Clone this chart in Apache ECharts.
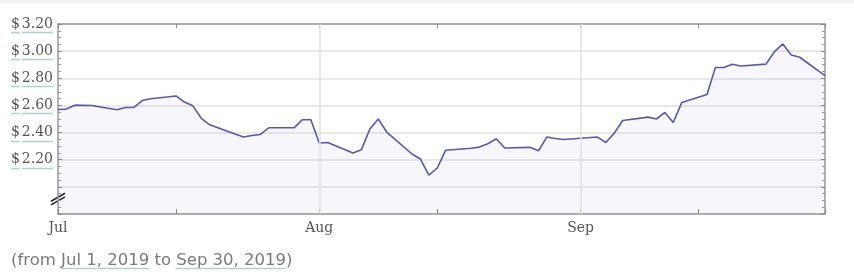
<!DOCTYPE html>
<html><head><meta charset="utf-8">
<script src="https://cdn.jsdelivr.net/npm/echarts@6/dist/echarts.min.js"></script>
<style>html,body{margin:0;padding:0;background:#fff;}#c{width:854px;height:274px;}</style>
</head><body><div id="c"></div>
<script>
const dates = ['2019-07-01','2019-07-02','2019-07-03','2019-07-05','2019-07-08','2019-07-09','2019-07-10','2019-07-11','2019-07-12',
'2019-07-15','2019-07-16','2019-07-17','2019-07-18','2019-07-19','2019-07-22','2019-07-23','2019-07-24','2019-07-25','2019-07-26',
'2019-07-29','2019-07-30','2019-07-31','2019-08-01','2019-08-02','2019-08-05','2019-08-06','2019-08-07','2019-08-08','2019-08-09',
'2019-08-12','2019-08-13','2019-08-14','2019-08-15','2019-08-16','2019-08-19','2019-08-20','2019-08-21','2019-08-22','2019-08-23',
'2019-08-26','2019-08-27','2019-08-28','2019-08-29','2019-08-30','2019-09-03','2019-09-04','2019-09-05','2019-09-06',
'2019-09-09','2019-09-10','2019-09-11','2019-09-12','2019-09-13','2019-09-16','2019-09-17','2019-09-18','2019-09-19','2019-09-20',
'2019-09-23','2019-09-24','2019-09-25','2019-09-26','2019-09-27','2019-09-30'];
const prices = [2.570,2.573,2.602,2.600,2.568,2.585,2.585,2.636,2.649,
2.670,2.625,2.597,2.505,2.457,2.390,2.367,2.378,2.386,2.435,
2.435,2.495,2.495,2.323,2.327,2.249,2.274,2.426,2.500,2.404,
2.242,2.205,2.087,2.139,2.270,2.285,2.293,2.318,2.354,2.286,
2.291,2.266,2.367,2.356,2.349,2.367,2.327,2.396,2.489,
2.514,2.500,2.548,2.474,2.621,2.680,2.879,2.879,2.904,2.891,
2.904,2.996,3.053,2.972,2.955,2.820];
const labeledPrices = [2.2,2.4,2.6,2.8,3.0,3.2];
const monthLabelDates = ['2019-07-01','2019-08-01','2019-09-01'];
const monthNames = ['Jan','Feb','Mar','Apr','May','Jun','Jul','Aug','Sep','Oct','Nov','Dec'];
const tickDates = ['2019-07-01','2019-07-15','2019-08-01','2019-08-15','2019-09-01','2019-09-15','2019-09-30'];
const gridMonthDates = ['2019-08-01','2019-09-01'];
const rangeStart = '2019-07-01', rangeEnd = '2019-09-30';
const yMin = 1.8, yMax = 3.2, yStep = 0.2;
const breakValue = 1.91;
const footerParts = ['(from ', 'Jul 1, 2019', ' to ', 'Sep 30, 2019', ')'];

const ts = s => Date.parse(s + 'T00:00:00Z');
const serif = "'DejaVu Serif', serif";
const sans = "'DejaVu Sans', sans-serif";
const labelSize = 14;
const labelMargin = 5;
const axisColor = '#999';

const yLabelFmt = v => labeledPrices.some(p => Math.abs(p - v) < 1e-6) ? '{d|$}{n|' + v.toFixed(2) + '}' : '';
const monthFmt = v => monthNames[new Date(v).getUTCMonth()];

const chart = echarts.init(document.getElementById('c'), null, {renderer: 'canvas'});
const option = {
  animation: false,
  grid: {left: 58, right: 29, top: 24, bottom: 60},
  xAxis: [{
    type: 'value', min: ts(rangeStart), max: ts(rangeEnd), position: 'bottom',
    axisLine: {show: true, lineStyle: {color: axisColor, width: 1.5}},
    axisTick: {show: true, inside: true, length: 5, customValues: tickDates.map(ts), lineStyle: {color: '#888', width: 1}},
    axisLabel: {customValues: monthLabelDates.map(ts), formatter: monthFmt, color: '#555', fontFamily: serif, fontSize: labelSize, margin: 7},
    splitLine: {show: false}
  }, {
    type: 'value', min: ts(rangeStart), max: ts(rangeEnd), position: 'top',
    axisLine: {show: true, lineStyle: {color: axisColor, width: 1.5}},
    axisTick: {show: true, inside: true, length: 4, customValues: tickDates.map(ts), lineStyle: {color: '#888', width: 1}},
    axisLabel: {show: false}, splitLine: {show: false}
  }],
  yAxis: [{
    type: 'value', min: yMin, max: yMax, interval: yStep, position: 'left',
    axisLine: {show: true, lineStyle: {color: axisColor, width: 1.5}},
    axisTick: {show: true, inside: true, length: 4, lineStyle: {color: '#888'}},
    minorTick: {show: true, splitNumber: 4, length: 3, lineStyle: {color: '#999'}},
    axisLabel: {formatter: yLabelFmt, margin: labelMargin, color: '#555', fontFamily: serif, fontSize: labelSize,
      rich: {d: {fontFamily: serif, fontSize: labelSize, color: '#555', padding: [0, 2, 0, 0]}, n: {fontFamily: serif, fontSize: labelSize, color: '#555'}}},
    splitLine: {show: true, lineStyle: {color: '#e2e2e2', width: 1.5}}
  }, {
    type: 'value', min: yMin, max: yMax, interval: yStep, position: 'right',
    axisLine: {show: true, lineStyle: {color: axisColor, width: 1.5}},
    axisTick: {show: true, inside: true, length: 4, lineStyle: {color: '#888'}},
    minorTick: {show: true, splitNumber: 4, length: 3, lineStyle: {color: '#999'}},
    axisLabel: {show: false}, splitLine: {show: false}
  }],
  series: [{
    type: 'line', z: 1, data: [], silent: true,
    markLine: {silent: true, symbol: 'none', label: {show: false}, animation: false,
      lineStyle: {color: '#e2e2e2', width: 1.5, type: 'solid'},
      data: gridMonthDates.map(d => ({xAxis: ts(d)}))}
  }, {
    type: 'line', z: 2, showSymbol: false, symbol: 'none',
    data: dates.map((d, i) => [ts(d), prices[i]]),
    lineStyle: {color: '#5858b2', width: 1.6},
    areaStyle: {color: 'rgba(95,95,185,0.07)', origin: 'start'}
  }]
};
chart.setOption(option);

const ctx = document.createElement('canvas').getContext('2d');
const tw = (t, font) => { ctx.font = font; return ctx.measureText(t).width; };
const ulColor = '#a9d2dc';
const g = [];
g.push({type: 'rect', shape: {x: 0, y: 0, width: 854, height: 3}, style: {fill: '#f3f3f3'}, silent: true});
const leftX = chart.convertToPixel({xAxisIndex: 0}, ts(rangeStart));
const lf = labelSize + 'px ' + serif;
labeledPrices.forEach(p => {
  const y = Math.round(chart.convertToPixel({yAxisIndex: 0}, p)) + 8.5;
  const right = leftX - labelMargin;
  const wn = tw(p.toFixed(2), lf), wd = tw('$', lf);
  g.push({type: 'line', silent: true, shape: {x1: right - wn, y1: y, x2: right, y2: y}, style: {stroke: ulColor, lineWidth: 1.5}});
  g.push({type: 'line', silent: true, shape: {x1: right - wn - 2 - wd, y1: y, x2: right - wn - 2, y2: y}, style: {stroke: ulColor, lineWidth: 1.5}});
});
// axis break marks
const by = chart.convertToPixel({yAxisIndex: 0}, breakValue);
[-1.8, 1.8].forEach(off => {
  g.push({type: 'line', silent: true, shape: {x1: leftX - 7, y1: by + off + 4, x2: leftX + 7, y2: by + off - 4}, style: {stroke: '#222', lineWidth: 1.5}});
});
// footer
const ff = '16.5px ' + sans;
const fx = 11, fy = 261;
g.push({type: 'text', silent: true, x: fx, y: fy, style: {text: footerParts.join(''), font: ff, fill: '#7a7a7a', verticalAlign: 'middle', align: 'left'}});
let acc = 0;
footerParts.forEach((part, i) => {
  const w = tw(part, ff);
  if (i === 1 || i === 3) {
    g.push({type: 'line', silent: true, shape: {x1: fx + acc, y1: fy + 7.5, x2: fx + acc + w, y2: fy + 7.5}, style: {stroke: ulColor, lineWidth: 1.5}});
  }
  acc += w;
});
chart.setOption({graphic: g});
</script></body></html>
